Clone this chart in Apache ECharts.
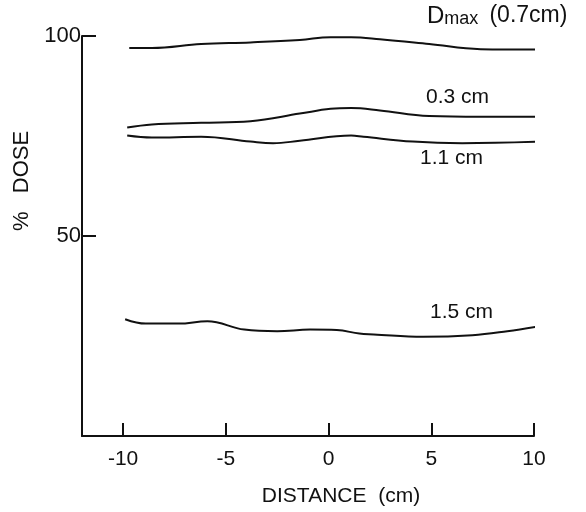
<!DOCTYPE html>
<html>
<head>
<meta charset="utf-8">
<script src="https://cdn.jsdelivr.net/npm/echarts@6/dist/echarts.min.js"></script>
<style>
  html, body { margin: 0; padding: 0; background: #fff; }
  #chart { width: 586px; height: 512px; }
</style>
</head>
<body>
<div id="chart"></div>
<script>
// depth profiles (distance in cm, % dose)
var distDmax = [-9.7, -8.6, -6.2, -3.8, -1.4, 0.1, 1.1, 2.5, 4.9, 7.4, 10.3];
var doseDmax = [97.0, 97.0, 98.0, 98.4, 99.0, 99.7, 99.7, 99.2, 98.0, 96.7, 96.6];

var dist03 = [-9.8, -8.6, -6.2, -3.8, -1.4, 0.1, 1.1, 2.5, 4.9, 7.4, 10.3];
var dose03 = [77.1, 77.9, 78.3, 78.7, 80.6, 81.8, 82.0, 81.4, 80.0, 79.8, 79.8];

var dist11 = [-9.8, -8.6, -6.2, -3.8, -2.7, -1.4, 1.1, 1.7, 4.1, 6.5, 10.3];
var dose11 = [75.1, 74.6, 74.8, 73.6, 73.2, 73.8, 75.1, 74.8, 73.6, 73.2, 73.6];

var dist15 = [-9.9, -8.9, -7.3, -5.9, -4.1, -2.5, -0.9, 0.4, 1.5, 2.2, 4.6, 7.0, 8.7, 10.1];
var dose15 = [29.2, 28.1, 28.1, 28.7, 26.6, 26.2, 26.6, 26.5, 25.6, 25.4, 24.8, 25.2, 26.2, 27.3];

var xTicks = [-10, -5, 0, 5, 10];
var yTicks = [50, 100];

var ink = '#111';
var fontName = 'Liberation Sans';

function pairs(xs, ys) {
    var out = [];
    for (var i = 0; i < xs.length; i++) {
        out.push([xs[i], ys[i]]);
    }
    return out;
}

function curve(name, xs, ys) {
    return {
        name: name,
        type: 'line',
        data: pairs(xs, ys),
        smooth: 0.4,
        showSymbol: false,
        clip: false,
        lineStyle: { color: ink, width: 2 },
        silent: true
    };
}

var option = {
    backgroundColor: '#fff',
    animation: false,
    grid: {
        left: 82,   //left
        top: 36,    //top
        right: 52,  //right
        bottom: 69  //down
    },
    xAxis: {
        type: 'value',
        min: -12,
        max: 10,
        name: 'DISTANCE  (cm)',
        nameLocation: 'middle',
        nameGap: 50,
        nameTextStyle: { color: ink, fontSize: 21, fontFamily: fontName, padding: [0, 0, 0, 66] },
        splitLine: { show: false },
        axisLine: { onZero: false, lineStyle: { color: ink, width: 2 } },
        axisTick: {
            inside: true,
            length: 13,
            customValues: xTicks,
            lineStyle: { color: ink, width: 2 }
        },
        axisLabel: {
            customValues: xTicks,
            color: ink,
            fontSize: 21,
            fontFamily: fontName,
            margin: 13
        }
    },
    yAxis: {
        type: 'value',
        min: 0,
        max: 100,
        name: '%   DOSE',
        nameLocation: 'middle',
        nameRotate: 90,
        nameGap: 48,
        nameTextStyle: { color: ink, fontSize: 22, fontFamily: fontName, padding: [0, 0, 0, 110] },
        splitLine: { show: false },
        axisLine: { show: true, onZero: false, lineStyle: { color: ink, width: 2 } },
        axisTick: {
            inside: true,
            length: 14,
            customValues: yTicks,
            lineStyle: { color: ink, width: 2 }
        },
        axisLabel: {
            customValues: yTicks,
            color: ink,
            fontSize: 22,
            fontFamily: fontName,
            margin: 1
        }
    },
    graphic: [
        {
            type: 'text', left: 427, top: 4,
            style: {
                text: '{d|D}{s|max}  {p|(0.7cm)}',
                fill: ink, font: '20px ' + fontName,
                rich: {
                    d: { fontSize: 24, fontFamily: fontName, fill: ink },
                    s: { fontSize: 18, fontFamily: fontName, fill: ink, verticalAlign: 'bottom' },
                    p: { fontSize: 23, fontFamily: fontName, fill: ink }
                }
            }
        },
        { type: 'text', left: 426, top: 87, style: { text: '0.3 cm', fill: ink, font: '21px ' + fontName } },
        { type: 'text', left: 420, top: 148, style: { text: '1.1 cm', fill: ink, font: '21px ' + fontName } },
        { type: 'text', left: 430, top: 302, style: { text: '1.5 cm', fill: ink, font: '21px ' + fontName } }
    ],
    series: [
        curve('Dmax (0.7 cm)', distDmax, doseDmax),
        curve('0.3 cm', dist03, dose03),
        curve('1.1 cm', dist11, dose11),
        curve('1.5 cm', dist15, dose15)
    ]
};

var myChart = echarts.init(document.getElementById('chart'));
myChart.setOption(option);
</script>
</body>
</html>
